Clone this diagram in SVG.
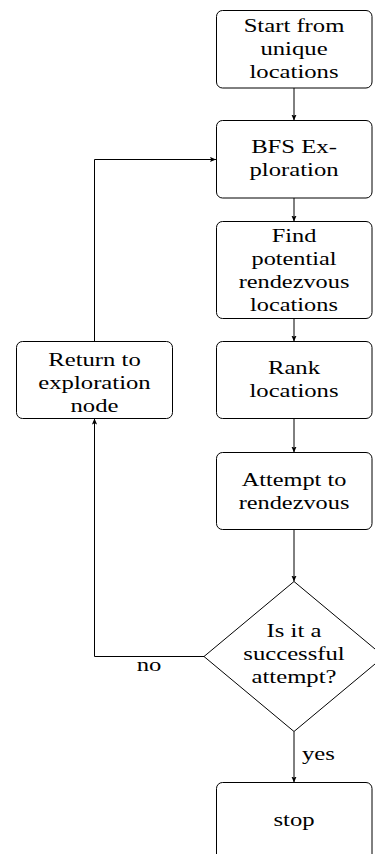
<svg xmlns="http://www.w3.org/2000/svg" width="375" height="854" viewBox="0 0 375 854">
  <style>
    .box { fill: #ffffff; stroke: #000000; stroke-width: 1; }
    .edge { fill: none; stroke: #000000; stroke-width: 1; }
    .lbl { font-family: "Liberation Serif", "DejaVu Serif", serif; font-size: 19px; fill: #000000; text-anchor: middle; }
    .tag { font-family: "Liberation Serif", "DejaVu Serif", serif; font-size: 19px; fill: #000000; }
  </style>
  <defs>
    <marker id="tip" markerUnits="userSpaceOnUse" markerWidth="8" markerHeight="8" refX="6" refY="3" orient="auto">
      <path d="M0,0.4 L6,3 L0,5.6 L1.2,3 Z" fill="#000000"/>
    </marker>
  </defs>

  <rect width="375" height="854" fill="#ffffff"/>

  <!-- connectors -->
  <g id="connectors">
    <line class="edge" x1="294" y1="88" x2="294" y2="120.5" marker-end="url(#tip)"/>
    <line class="edge" x1="294" y1="198" x2="294" y2="221.5" marker-end="url(#tip)"/>
    <line class="edge" x1="294" y1="318.5" x2="294" y2="341.5" marker-end="url(#tip)"/>
    <line class="edge" x1="294" y1="418.5" x2="294" y2="452.5" marker-end="url(#tip)"/>
    <line class="edge" x1="294" y1="529.5" x2="294" y2="581.5" marker-end="url(#tip)"/>
    <line class="edge" x1="294" y1="731.5" x2="294" y2="782.5" marker-end="url(#tip)"/>
    <polyline class="edge" points="204,656.5 94.5,656.5 94.5,418.5" marker-end="url(#tip)"/>
    <polyline class="edge" points="94.5,341.5 94.5,159.5 216,159.5" marker-end="url(#tip)"/>
    <text class="tag" x="149" y="671.5" text-anchor="middle" transform="translate(149 0) scale(1.3 1) translate(-149 0)">no</text>
    <text class="tag" x="302" y="760" transform="translate(302 0) scale(1.3 1) translate(-302 0)">yes</text>
  </g>

  <!-- nodes -->
  <g id="start">
    <rect class="box" x="216.5" y="10.5" width="155.5" height="77.5" rx="6"/>
    <g transform="translate(294 0) scale(1.3 1)">
      <text class="lbl" x="0" y="32.5">Start from</text>
      <text class="lbl" x="0" y="55.5">unique</text>
      <text class="lbl" x="0" y="78.5">locations</text>
    </g>
  </g>

  <g id="bfs">
    <rect class="box" x="216.5" y="120.5" width="155.5" height="77.5" rx="6"/>
    <g transform="translate(294 0) scale(1.3 1)">
      <text class="lbl" x="0" y="153.5">BFS Ex-</text>
      <text class="lbl" x="0" y="176.5">ploration</text>
    </g>
  </g>

  <g id="find">
    <rect class="box" x="216.5" y="221.5" width="155.5" height="97" rx="6"/>
    <g transform="translate(294 0) scale(1.28 1)">
      <text class="lbl" x="0" y="242.5">Find</text>
      <text class="lbl" x="0" y="265.5">potential</text>
      <text class="lbl" x="0" y="288.5">rendezvous</text>
      <text class="lbl" x="0" y="311.5">locations</text>
    </g>
  </g>

  <g id="rank">
    <rect class="box" x="216.5" y="341.5" width="155.5" height="77" rx="6"/>
    <g transform="translate(294 0) scale(1.3 1)">
      <text class="lbl" x="0" y="374.5">Rank</text>
      <text class="lbl" x="0" y="397.5">locations</text>
    </g>
  </g>

  <g id="return">
    <rect class="box" x="16.5" y="341.5" width="156" height="77" rx="6"/>
    <g transform="translate(94.5 0) scale(1.3 1)">
      <text class="lbl" x="0" y="366.5">Return to</text>
      <text class="lbl" x="0" y="389.5">exploration</text>
      <text class="lbl" x="0" y="412.5">node</text>
    </g>
  </g>

  <g id="attempt">
    <rect class="box" x="216.5" y="452.5" width="155.5" height="77" rx="6"/>
    <g transform="translate(294 0) scale(1.28 1)">
      <text class="lbl" x="0" y="486">Attempt to</text>
      <text class="lbl" x="0" y="509">rendezvous</text>
    </g>
  </g>

  <g id="decision">
    <polygon class="box" points="294,581.5 384,656.5 294,731.5 204,656.5"/>
    <g transform="translate(294 0) scale(1.3 1)">
      <text class="lbl" x="0" y="637.5">Is it a</text>
      <text class="lbl" x="0" y="660.5">successful</text>
      <text class="lbl" x="0" y="683.5">attempt?</text>
    </g>
  </g>

  <g id="stop">
    <rect class="box" x="216.5" y="782.5" width="155.5" height="77.5" rx="6"/>
    <g transform="translate(294 0) scale(1.3 1)">
      <text class="lbl" x="0" y="826.5">stop</text>
    </g>
  </g>
</svg>
